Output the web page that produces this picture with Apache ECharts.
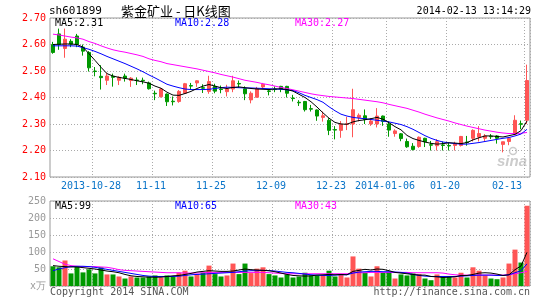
<!DOCTYPE html>
<html><head><meta charset="utf-8">
<script src="https://cdn.jsdelivr.net/npm/echarts@6/dist/echarts.min.js"></script>
<style>html,body{margin:0;padding:0;background:#fff}#c{width:545px;height:300px}</style>
</head><body><div id="c"></div>
<script>
const dates = ['2013-10-17','2013-10-18','2013-10-21','2013-10-22','2013-10-23','2013-10-24','2013-10-25','2013-10-28','2013-10-29','2013-10-30','2013-10-31','2013-11-01','2013-11-04','2013-11-05','2013-11-06','2013-11-07','2013-11-08','2013-11-11','2013-11-12','2013-11-13','2013-11-14','2013-11-15','2013-11-18','2013-11-19','2013-11-20','2013-11-21','2013-11-22','2013-11-25','2013-11-26','2013-11-27','2013-11-28','2013-11-29','2013-12-02','2013-12-03','2013-12-04','2013-12-05','2013-12-06','2013-12-09','2013-12-10','2013-12-11','2013-12-12','2013-12-13','2013-12-16','2013-12-17','2013-12-18','2013-12-19','2013-12-20','2013-12-23','2013-12-24','2013-12-25','2013-12-26','2013-12-27','2013-12-30','2013-12-31','2014-01-02','2014-01-03','2014-01-06','2014-01-07','2014-01-08','2014-01-09','2014-01-10','2014-01-13','2014-01-14','2014-01-15','2014-01-16','2014-01-17','2014-01-20','2014-01-21','2014-01-22','2014-01-23','2014-01-24','2014-01-27','2014-01-28','2014-01-29','2014-01-30','2014-02-07','2014-02-10','2014-02-11','2014-02-12','2014-02-13'];

const openP  = [2.600,2.640,2.585,2.612,2.632,2.590,2.570,2.500,2.480,2.465,2.480,2.465,2.481,2.464,2.466,2.465,2.455,2.416,2.403,2.413,2.386,2.385,2.416,2.445,2.455,2.437,2.423,2.442,2.432,2.422,2.432,2.453,2.433,2.391,2.401,2.440,2.425,2.432,2.442,2.442,2.398,2.382,2.385,2.358,2.353,2.325,2.314,2.279,2.276,2.298,2.300,2.325,2.331,2.300,2.300,2.330,2.300,2.264,2.263,2.234,2.216,2.215,2.246,2.222,2.218,2.221,2.219,2.219,2.219,2.232,2.246,2.251,2.246,2.254,2.255,2.223,2.234,2.261,2.301,2.314];
const closeP = [2.570,2.600,2.620,2.601,2.600,2.575,2.512,2.498,2.475,2.481,2.476,2.476,2.473,2.473,2.464,2.463,2.433,2.414,2.432,2.384,2.384,2.423,2.452,2.443,2.463,2.435,2.460,2.424,2.430,2.432,2.463,2.451,2.414,2.416,2.433,2.450,2.423,2.430,2.432,2.416,2.396,2.380,2.354,2.356,2.330,2.331,2.276,2.277,2.300,2.301,2.354,2.333,2.317,2.311,2.330,2.310,2.277,2.274,2.245,2.214,2.204,2.250,2.233,2.220,2.233,2.219,2.217,2.225,2.253,2.230,2.276,2.264,2.255,2.252,2.246,2.233,2.246,2.314,2.299,2.464];
const lowP   = [2.565,2.580,2.550,2.590,2.590,2.558,2.498,2.480,2.430,2.447,2.441,2.447,2.460,2.440,2.447,2.450,2.430,2.390,2.400,2.368,2.370,2.380,2.414,2.430,2.440,2.417,2.414,2.416,2.416,2.404,2.420,2.436,2.390,2.378,2.400,2.432,2.408,2.420,2.420,2.400,2.385,2.368,2.347,2.347,2.312,2.309,2.258,2.242,2.248,2.277,2.250,2.310,2.300,2.293,2.287,2.293,2.252,2.252,2.235,2.210,2.200,2.210,2.213,2.200,2.200,2.200,2.200,2.200,2.215,2.218,2.234,2.234,2.234,2.243,2.226,2.193,2.220,2.258,2.280,2.300];
const highP  = [2.610,2.660,2.660,2.620,2.640,2.600,2.575,2.515,2.522,2.494,2.490,2.480,2.490,2.477,2.476,2.475,2.460,2.426,2.436,2.415,2.404,2.428,2.455,2.455,2.465,2.450,2.482,2.452,2.445,2.448,2.482,2.464,2.442,2.423,2.440,2.455,2.432,2.442,2.444,2.444,2.410,2.390,2.387,2.372,2.355,2.347,2.322,2.292,2.311,2.327,2.433,2.340,2.355,2.322,2.360,2.332,2.310,2.280,2.266,2.245,2.228,2.253,2.248,2.236,2.243,2.234,2.230,2.233,2.255,2.255,2.280,2.292,2.262,2.262,2.258,2.233,2.250,2.333,2.313,2.524];

const ma5  = [2.600,2.601,2.602,2.602,2.600,2.590,2.565,2.540,2.514,2.490,2.481,2.476,2.472,2.468,2.463,2.459,2.454,2.443,2.435,2.420,2.409,2.408,2.415,2.423,2.434,2.443,2.449,2.443,2.437,2.434,2.438,2.440,2.437,2.434,2.432,2.431,2.430,2.432,2.433,2.430,2.424,2.412,2.400,2.384,2.364,2.342,2.322,2.306,2.300,2.299,2.308,2.313,2.316,2.320,2.325,2.318,2.305,2.290,2.278,2.257,2.245,2.238,2.232,2.227,2.224,2.226,2.229,2.228,2.226,2.230,2.240,2.248,2.255,2.255,2.253,2.251,2.256,2.261,2.275,2.311];
const ma10 = [2.595,2.595,2.595,2.595,2.594,2.588,2.582,2.574,2.565,2.555,2.546,2.537,2.528,2.518,2.508,2.497,2.485,2.474,2.462,2.450,2.443,2.437,2.432,2.430,2.430,2.430,2.431,2.434,2.437,2.439,2.438,2.437,2.436,2.436,2.435,2.434,2.433,2.432,2.431,2.429,2.426,2.418,2.408,2.400,2.392,2.382,2.365,2.350,2.337,2.330,2.325,2.322,2.320,2.317,2.314,2.311,2.308,2.303,2.298,2.290,2.280,2.268,2.256,2.246,2.238,2.232,2.229,2.226,2.224,2.224,2.227,2.230,2.234,2.238,2.242,2.246,2.249,2.255,2.262,2.280];
const ma30 = [2.639,2.636,2.632,2.628,2.625,2.620,2.611,2.604,2.595,2.587,2.580,2.575,2.571,2.566,2.561,2.555,2.546,2.540,2.535,2.528,2.524,2.520,2.516,2.512,2.508,2.503,2.498,2.493,2.487,2.482,2.477,2.471,2.465,2.461,2.457,2.452,2.448,2.443,2.438,2.434,2.429,2.424,2.419,2.414,2.410,2.407,2.404,2.402,2.400,2.398,2.396,2.393,2.390,2.387,2.384,2.380,2.374,2.369,2.364,2.359,2.352,2.345,2.337,2.330,2.323,2.317,2.311,2.304,2.298,2.292,2.287,2.282,2.277,2.273,2.269,2.266,2.264,2.264,2.265,2.268];

const volume  = [58,55,75,37,56,40,49,37,55,34,34,28,22,28,25,25,28,31,25,31,28,39,45,28,35,39,60,35,28,31,66,35,66,38,51,55,35,31,25,34,25,28,39,31,31,31,45,28,35,25,87,51,39,28,58,39,41,22,34,31,37,35,22,17,34,28,28,25,39,25,55,45,31,22,20,25,66,107,69,236];
const volMa5  = [60,58,57,56,56,54,52,50,47,44,42,39,34,30,28,27,26,26,26,28,30,31,34,37,41,43,45,44,43,43,44,47,50,48,47,46,45,42,38,34,31,30,29,30,32,33,34,33,34,33,43,46,49,47,50,49,45,40,38,36,34,32,32,28,27,25,26,27,31,31,34,38,39,38,35,31,33,48,59,99];
const volMa10 = [45,50,54,57,58,58,57,55,52,49,46,43,40,37,34,31,29,28,28,28,28,29,31,33,34,35,36,37,38,39,40,42,44,45,45,46,45,44,42,40,39,37,35,33,32,31,31,32,33,33,38,41,42,43,43,42,42,41,40,38,34,31,29,28,28,28,28,28,29,30,31,32,32,32,31,31,33,39,45,65];
const volMa30 = [80,72,64,60,58,57,57,57,56,55,52,48,46,45,44,43,42,41,40,39,39,39,38,38,38,39,40,40,40,40,40,40,40,40,40,40,39,38,37,36,36,36,36,36,36,36,36,36,36,36,39,39,39,40,40,40,40,40,40,40,39,39,39,39,39,38,35,33,32,32,32,32,32,32,32,32,33,36,39,43];

const tickIndex  = [7,17,27,37,47,56,66,79];
const tickLabels = ['2013-10-28','11-11','11-25','12-09','12-23','2014-01-06','01-20','02-13'];

const UP = '#ff5555', DOWN = '#009900';
const MONO = 'DejaVu Sans Mono';
const gridLine = {show:true, lineStyle:{color:'#aaaaaa', width:1, type:[1,2]}};
const isTick = (i) => tickIndex.indexOf(i) >= 0;

const chart = echarts.init(document.getElementById('c'), null, {renderer:'canvas'});
const candleData = dates.map((d,i)=>[openP[i], closeP[i], lowP[i], highP[i]]);
const volData = volume.map((v,i)=>({value:v, itemStyle:{color: closeP[i] >= openP[i] ? UP : DOWN}}));

function legendText(x, y, txt, color){
  return {type:'text', x:x, y:y, silent:true, z:100,
    style:{text:txt, fill:color, font:'10px "'+MONO+'"', textVerticalAlign:'middle'}};
}

chart.setOption({
  animation:false,
  backgroundColor:'#fff',
  grid:[
    {left:50, right:15, top:18, height:159, show:true, borderColor:'#999', borderWidth:1},
    {left:50, right:15, top:201, height:85, show:true, borderColor:'#999', borderWidth:1}
  ],
  xAxis:[
    {type:'category', gridIndex:0, data:dates, boundaryGap:true,
     axisLine:{show:false}, axisTick:{show:false},
     axisLabel:{interval:(i)=>isTick(i), color:'#0b75c9', fontFamily:MONO, fontSize:10, margin:4,
       padding:[0,8,0,0],
       formatter:(v,i)=>{const k=tickIndex.indexOf(i); if(k<0) return ''; return k===tickIndex.length-1 ? '{r|'+tickLabels[k]+'}' : tickLabels[k];},
       rich:{r:{padding:[0,32,0,0], color:'#0b75c9', fontFamily:MONO, fontSize:10}}},
     splitLine:Object.assign({interval:(i)=>isTick(i)}, gridLine)},
    {type:'category', gridIndex:1, data:dates, boundaryGap:true,
     axisLine:{show:false}, axisTick:{show:false}, axisLabel:{show:false},
     splitLine:Object.assign({interval:(i)=>isTick(i)}, gridLine)}
  ],
  yAxis:[
    {type:'value', gridIndex:0, min:2.1, max:2.7, interval:0.1, scale:true,
     axisLine:{show:false}, axisTick:{show:false},
     axisLabel:{color:'#ff0000', fontFamily:MONO, fontSize:10, margin:4, formatter:(v)=>v.toFixed(2)},
     splitLine:gridLine},
    {type:'value', gridIndex:1, min:0, max:250, interval:50,
     axisLine:{show:false}, axisTick:{show:false},
     axisLabel:{color:'#999999', fontFamily:MONO, fontSize:10, margin:4, formatter:(v)=> v===0 ? 'x万' : String(v)},
     splitLine:gridLine}
  ],
  series:[
    {type:'candlestick', xAxisIndex:0, yAxisIndex:0, data:candleData, barWidth:4,
     itemStyle:{color:UP, color0:DOWN, borderColor:UP, borderColor0:DOWN, borderWidth:1}},
    {type:'line', xAxisIndex:0, yAxisIndex:0, data:ma30, showSymbol:false, lineStyle:{color:'#ff00ff', width:1}, itemStyle:{color:'#ff00ff'}},
    {type:'line', xAxisIndex:0, yAxisIndex:0, data:ma10, showSymbol:false, lineStyle:{color:'#0000ff', width:1}, itemStyle:{color:'#0000ff'}},
    {type:'line', xAxisIndex:0, yAxisIndex:0, data:ma5, showSymbol:false, lineStyle:{color:'#000000', width:1}, itemStyle:{color:'#000'}},
    {type:'bar', xAxisIndex:1, yAxisIndex:1, data:volData, barWidth:5},
    {type:'line', xAxisIndex:1, yAxisIndex:1, data:volMa30, showSymbol:false, lineStyle:{color:'#ff00ff', width:1}},
    {type:'line', xAxisIndex:1, yAxisIndex:1, data:volMa10, showSymbol:false, lineStyle:{color:'#0000ff', width:1}},
    {type:'line', xAxisIndex:1, yAxisIndex:1, data:volMa5, showSymbol:false, lineStyle:{color:'#000000', width:1}}
  ],
  graphic:[
    {type:'text', x:49, y:11, style:{text:'sh601899', fill:'#000', font:'11px "'+MONO+'"', textVerticalAlign:'middle'}},
    {type:'text', x:121, y:11, style:{text:'紫金矿业 - 日K线图', fill:'#000', font:'13px "Noto Sans CJK SC"', textVerticalAlign:'middle'}},
    {type:'text', x:531, y:11, style:{text:'2014-02-13 13:14:29', fill:'#000', font:'10px "'+MONO+'"', textAlign:'right', textVerticalAlign:'middle'}},
    legendText(55, 23.5, 'MA5:' + ma5[ma5.length-1].toFixed(2), '#000000'),
    legendText(175, 23.5, 'MA10:' + ma10[ma10.length-1].toFixed(2), '#0000ff'),
    legendText(295, 23.5, 'MA30:' + ma30[ma30.length-1].toFixed(2), '#ff00ff'),
    legendText(55, 206.5, 'MA5:' + volMa5[volMa5.length-1], '#000000'),
    legendText(175, 206.5, 'MA10:' + volMa10[volMa10.length-1], '#0000ff'),
    legendText(295, 206.5, 'MA30:' + volMa30[volMa30.length-1], '#ff00ff'),
    {type:'text', x:497, y:162, style:{text:'sina', fill:'#cccccc', font:'italic bold 15px "Liberation Sans"', textVerticalAlign:'middle'}},
    {type:'circle', shape:{cx:513, cy:151, r:3.5}, style:{fill:'none', stroke:'#cccccc', lineWidth:1.5}},
    {type:'text', x:50, y:292.5, style:{text:'Copyright 2014 SINA.COM', fill:'#555', font:'10px "'+MONO+'"', textVerticalAlign:'middle'}},
    {type:'text', x:530, y:292.5, style:{text:'http://finance.sina.com.cn', fill:'#555', font:'10px "'+MONO+'"', textAlign:'right', textVerticalAlign:'middle'}}
  ]
});
</script></body></html>
